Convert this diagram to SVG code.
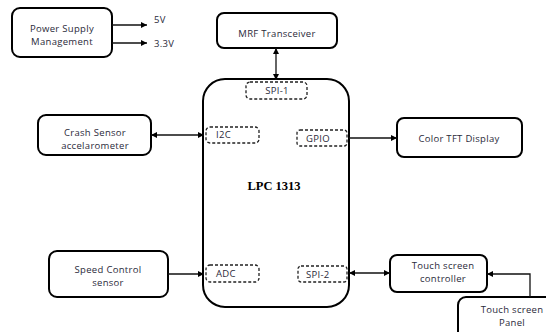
<svg xmlns="http://www.w3.org/2000/svg" width="546" height="332" viewBox="0 0 546 332">
<style>
.box{fill:#fff;stroke:#000;stroke-width:2}
.port{fill:none;stroke:#222;stroke-width:1.3;stroke-dasharray:3,2}
.t{font-family:"Open Sans","Liberation Sans",sans-serif;font-size:9.5px;fill:#2a2a3a;text-anchor:middle;letter-spacing:0.3px}
.ts{font-family:"Open Sans","Liberation Sans",sans-serif;font-size:9.5px;fill:#2a2a3a;letter-spacing:0.3px}
.big{font-family:"Liberation Serif",serif;font-size:12.5px;font-weight:bold;fill:#000;text-anchor:middle}
.c{fill:none;stroke:#111;stroke-width:1.3}
</style>
<defs>
<marker id="ah" viewBox="0 0 10 10" refX="10" refY="5" markerWidth="7" markerHeight="6" markerUnits="userSpaceOnUse" orient="auto-start-reverse">
<path d="M0,0 L10,5 L0,10 z" fill="#000"/>
</marker>
</defs>
<rect width="546" height="332" fill="#fff"/>

<g id="power">
<rect class="box" x="12" y="8" width="100" height="49" rx="8"/>
<text class="t" x="62" y="32">Power Supply</text>
<text class="t" x="62" y="45">Management</text>
</g>
<g id="mrf">
<rect class="box" x="217" y="13" width="120" height="35" rx="7"/>
<text class="t" x="277" y="37">MRF Transceiver</text>
</g>
<g id="crash">
<rect class="box" x="38" y="115" width="113" height="40" rx="8"/>
<text class="t" x="95" y="136">Crash Sensor</text>
<text class="t" x="95" y="149">accelarometer</text>
</g>
<g id="tft">
<rect class="box" x="397" y="118" width="125" height="39" rx="7"/>
<text class="t" x="459" y="142">Color TFT Display</text>
</g>
<g id="speed">
<rect class="box" x="49" y="251" width="119" height="46" rx="8"/>
<text class="t" x="108" y="273">Speed Control</text>
<text class="t" x="108" y="286">sensor</text>
</g>
<g id="touchctrl">
<rect class="box" x="390" y="255" width="97" height="37" rx="7"/>
<text class="t" x="443" y="269">Touch screen</text>
<text class="t" x="443" y="282">controller</text>
</g>
<g id="touchpanel">
<rect class="box" x="458" y="297" width="100" height="45" rx="8"/>
<text class="t" x="512" y="313">Touch screen</text>
<text class="t" x="512" y="326">Panel</text>
</g>
<g id="lpc">
<rect class="box" x="203" y="79" width="146" height="228" rx="22" stroke-width="2.2"/>
<text class="big" x="274" y="190">LPC 1313</text>
<g id="spi1"><rect class="port" x="246" y="82" width="61" height="17" rx="4"/><text class="t" x="277" y="94">SPI-1</text></g>
<g id="i2c"><rect class="port" x="206" y="127" width="53" height="16" rx="4"/><text class="ts" x="216" y="138">I2C</text></g>
<g id="gpio"><rect class="port" x="297" y="130" width="50" height="16" rx="3"/><text class="ts" x="306" y="142">GPIO</text></g>
<g id="adc"><rect class="port" x="206" y="265" width="53" height="17" rx="4"/><text class="ts" x="216" y="277">ADC</text></g>
<g id="spi2"><rect class="port" x="298" y="266" width="49" height="16" rx="3"/><text class="ts" x="306" y="278">SPI-2</text></g>
</g>

<g id="connectors">
<line class="c" x1="112" y1="25" x2="147" y2="25" marker-end="url(#ah)"/>
<line class="c" x1="112" y1="43" x2="147" y2="43" marker-end="url(#ah)"/>
<line class="c" x1="276" y1="48" x2="276" y2="80" marker-start="url(#ah)" marker-end="url(#ah)"/>
<line class="c" x1="151" y1="135" x2="204" y2="135" marker-start="url(#ah)" marker-end="url(#ah)"/>
<line class="c" x1="349" y1="138" x2="397" y2="138" marker-end="url(#ah)"/>
<line class="c" x1="168" y1="274" x2="204" y2="274" marker-end="url(#ah)"/>
<line class="c" x1="349" y1="273" x2="390" y2="273" marker-start="url(#ah)" marker-end="url(#ah)"/>
<polyline class="c" points="530,297 530,274 487,274" marker-end="url(#ah)"/>
</g>
<text class="ts" x="154" y="23">5V</text>
<text class="ts" x="154" y="47">3.3V</text>
</svg>
